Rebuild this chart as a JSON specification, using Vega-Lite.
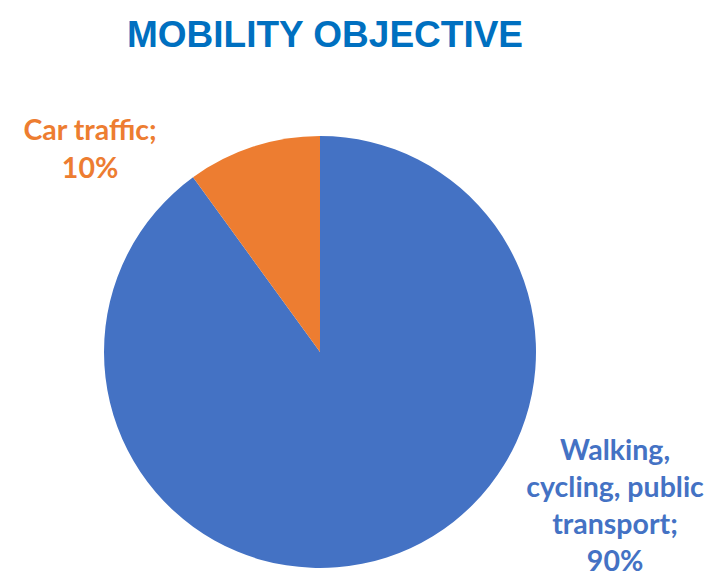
{
  "$schema": "https://vega.github.io/schema/vega-lite/v6.json",
  "width": 640,
  "height": 472,
  "autosize": "none",
  "padding": {"left": 0, "top": 116, "right": 81, "bottom": 0},
  "background": "white",
  "title": {
    "text": "MOBILITY OBJECTIVE",
    "font": "Liberation Sans",
    "fontSize": 37,
    "fontWeight": "bold",
    "color": "#0070C0",
    "anchor": "middle",
    "baseline": "alphabetic",
    "offset": 32,
    "dx": 5
  },
  "data": {
    "values": [
      {"category": "Walking, cycling, public transport", "share": 90, "label": "Walking,\ncycling, public\ntransport;\n90%"},
      {"category": "Car traffic", "share": 10, "label": "Car traffic;\n10%"}
    ]
  },
  "encoding": {
    "theta": {"field": "share", "type": "quantitative", "stack": true},
    "order": {"field": "share", "type": "quantitative", "sort": "descending"},
    "color": {
      "field": "category",
      "type": "nominal",
      "scale": {"domain": ["Walking, cycling, public transport", "Car traffic"], "range": ["#4472C4", "#ED7D31"]},
      "legend": null
    }
  },
  "view": {"stroke": null},
  "layer": [
    {"mark": {"type": "arc", "outerRadius": 216, "stroke": null}},
    {
      "transform": [{"filter": "datum.share == 10"}],
      "mark": {"type": "text", "radius": 230, "dx": -301, "dy": -2, "lineBreak": "\n", "font": "Lato", "fontWeight": "bold", "fontSize": 28.5, "lineHeight": 38, "align": "center", "baseline": "middle"},
      "encoding": {"text": {"field": "label"}}
    },
    {
      "transform": [{"filter": "datum.share == 90"}],
      "mark": {"type": "text", "radius": 230, "dx": 224, "dy": -120, "lineBreak": "\n", "font": "Lato", "fontWeight": "bold", "fontSize": 28.5, "lineHeight": 37, "align": "center", "baseline": "middle"},
      "encoding": {"text": {"field": "label"}}
    }
  ]
}
